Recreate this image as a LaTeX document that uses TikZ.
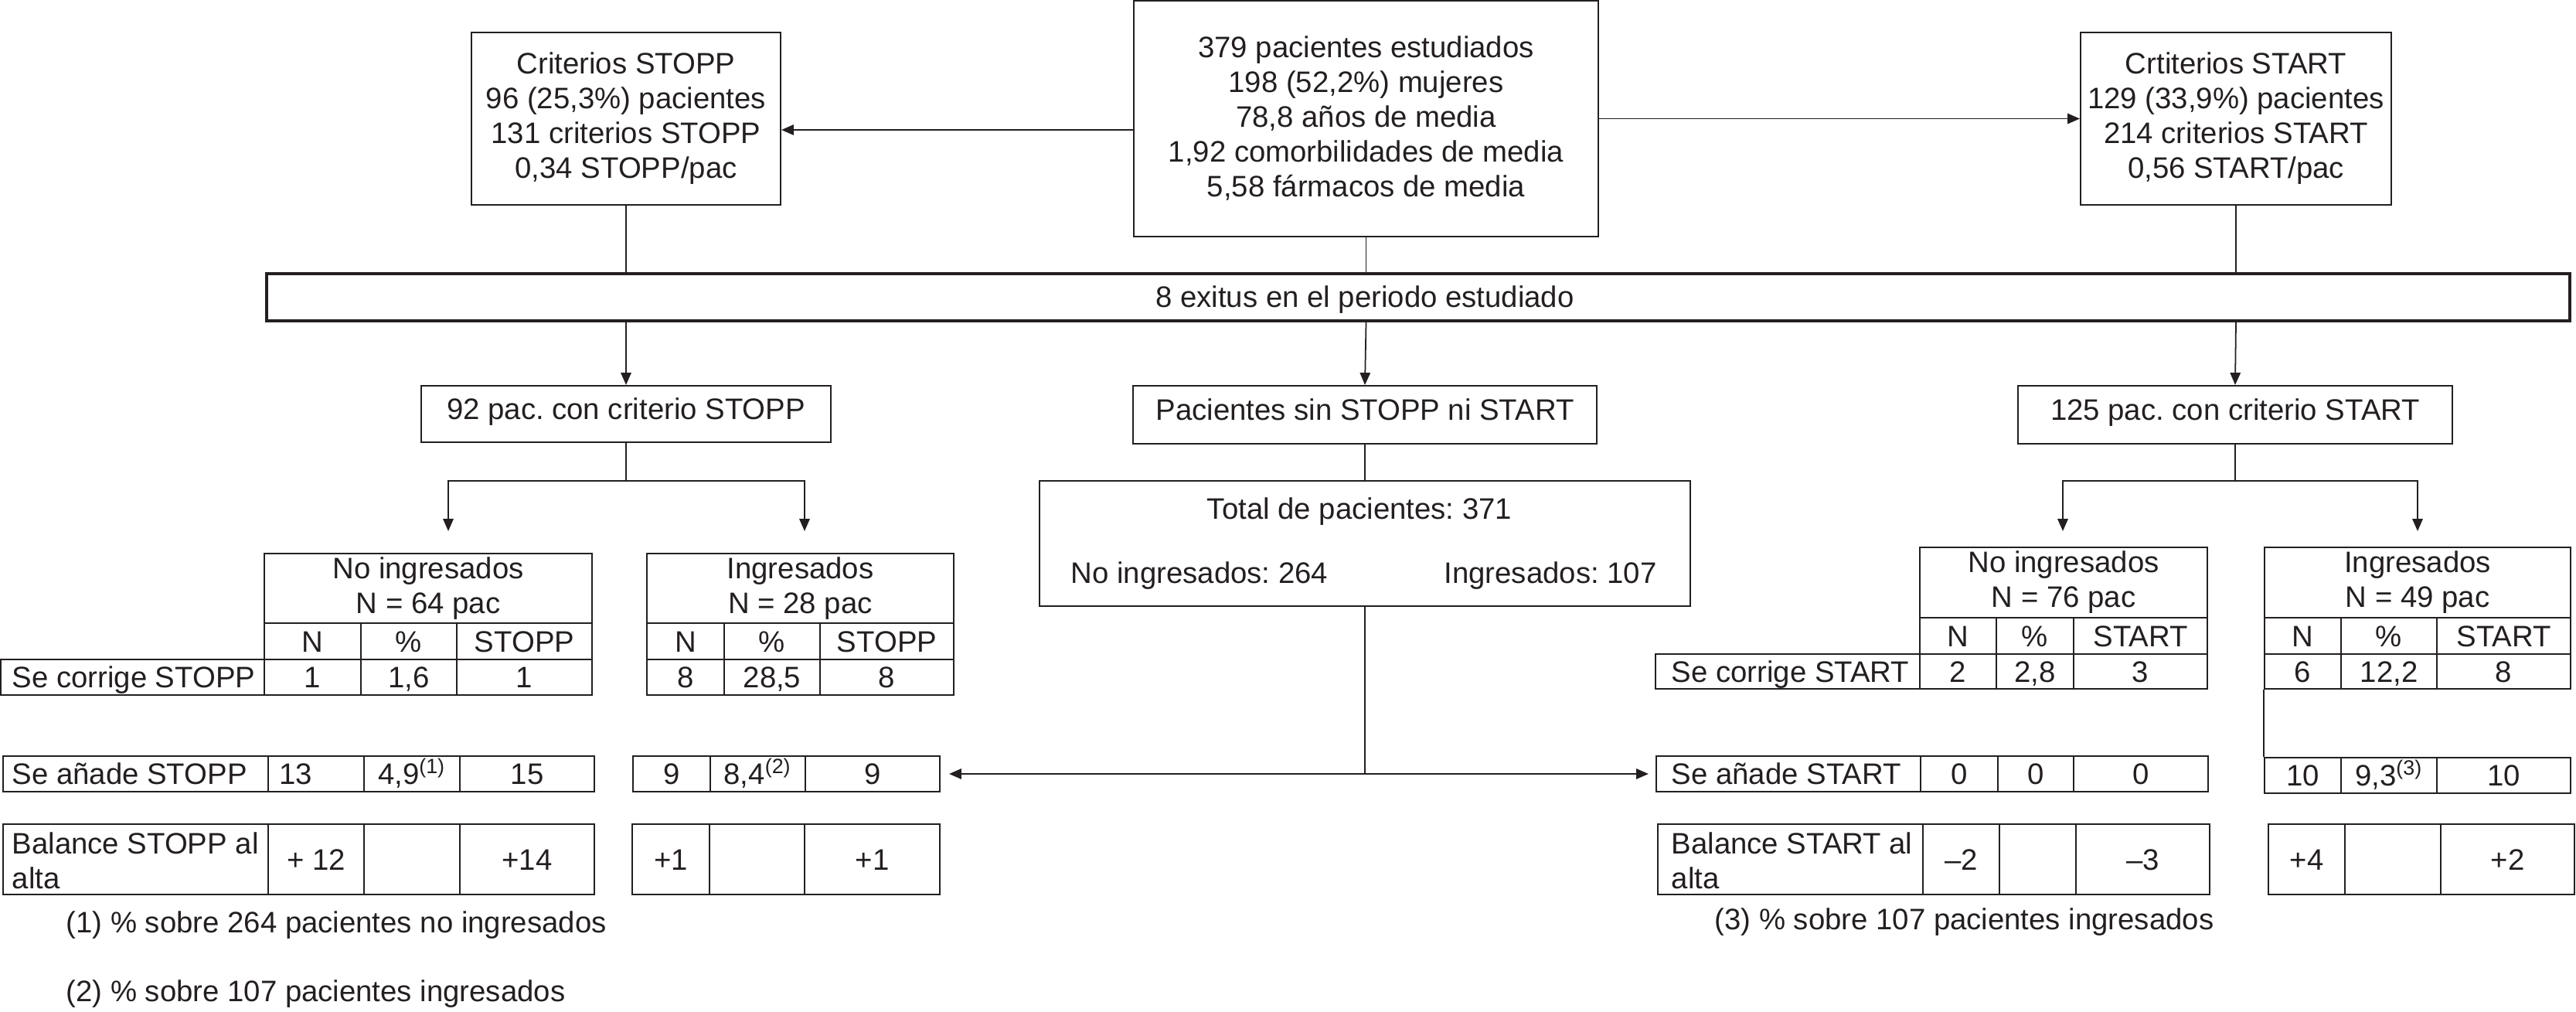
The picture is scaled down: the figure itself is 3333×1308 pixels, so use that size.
\documentclass[tikz,border=0pt]{standalone}
\usepackage{fontspec}
\setmainfont{Liberation Sans}
\frenchspacing
\usetikzlibrary{arrows.meta}
\definecolor{ink}{RGB}{35,31,32}
\newcommand\fsz{\fontsize{10.9}{12.8}\selectfont}
% [style]{name}{x1}{y1}{x2}{y2}{text}
\newcommand\mycell[7][cell]{\node[#1,minimum width={(#5-#3)*0.01cm},minimum height={(#6-#4)*0.01cm}] (#2) at ({(#3+#5)/2},{(#4+#6)/2}) {#7};}
\begin{document}
\begin{tikzpicture}[x=0.01cm,y=-0.01cm,
  every node/.style={text=ink},
  box/.style={draw=ink,line width=0.6pt,inner sep=0pt,align=center,font=\fsz},
  tbox/.style={box,text height=7.8pt,text depth=4pt},
  thick box/.style={draw=ink,line width=1.2pt,inner sep=0pt},
  cell/.style={draw=ink,line width=0.6pt,inner sep=0pt,font=\fsz,text height=7.8pt,text depth=0pt},
  hcell/.style={draw=ink,line width=0.6pt,inner sep=0pt,font=\fsz,align=center},
  txt/.style={inner sep=0pt,font=\fsz,text height=7.8pt,text depth=0pt},
  ltxt/.style={inner sep=0pt,font=\fsz,align=left,anchor=west},
  line/.style={draw=ink,line width=0.5pt},
  arr/.style={line,-{Triangle[length=4.5pt,width=3.8pt]}}]
\useasboundingbox (0,0) rectangle (3333,1308);

% top boxes
\mycell[box]{stopp}{610}{42}{1010}{265}{Criterios STOPP\\96 (25,3\%) pacientes\\131 criterios STOPP\\0,34 STOPP/pac}
\mycell[box]{main}{1467}{1}{2068}{306}{379 pacientes estudiados\\198 (52,2\%) mujeres\\78,8 años de media\\1,92 comorbilidades de media\\5,58 fármacos de media}
\mycell[box]{start}{2692}{42}{3094}{265}{Crtiterios START\\129 (33,9\%) pacientes\\214 criterios START\\0,56 START/pac}

\draw[arr] (main.west |- 0,168) -- (stopp.east |- 0,168);
\draw[arr] (main.east) -- (start.west);

% exitus bar
\mycell[thick box]{exitus}{345}{354}{3325}{415}{}
\node[txt] (exitustxt) at (1766,384) {8 exitus en el periodo estudiado};
\draw[line] (stopp.south) -- (stopp.south |- exitus.north);
\draw[line] (main.south) -- (main.south |- exitus.north);
\draw[line] (start.south) -- (start.south |- exitus.north);

% second level
\mycell[tbox]{p92}{545}{499}{1075}{572}{92 pac. con criterio STOPP}
\mycell[tbox]{sinboth}{1466}{499}{2066}{574}{Pacientes sin STOPP ni START}
\mycell[tbox]{p125}{2611}{499}{3173}{574}{125 pac. con criterio START}
\draw[arr] (stopp.south |- exitus.south) -- (p92.north);
\draw[arr] (main.south |- exitus.south) -- (sinboth.north);
\draw[arr] (start.south |- exitus.south) -- (p125.north);

% branches
\coordinate (sjl) at (580,622); \coordinate (sal) at (580,687);
\coordinate (sjr) at (1041,622); \coordinate (sar) at (1041,687);
\coordinate (tjl) at (2669,622); \coordinate (tal) at (2669,687);
\coordinate (tjr) at (3128,622); \coordinate (tar) at (3128,687);
\draw[arr] (p92.south) |- (sjl) -- (sal);
\draw[arr] (p92.south) |- (sjr) -- (sar);
\draw[arr] (p125.south) |- (tjl) -- (tal);
\draw[arr] (p125.south) |- (tjr) -- (tar);

% total box
\mycell[box]{total}{1345}{622}{2187}{784}{}
\draw[line] (sinboth.south) -- (total.north);
\node[txt] (tottxt) at (1759,658) {Total de pacientes: 371};
\node[txt] (totni) at (1552,741) {No ingresados: 264};
\node[txt] (totin) at (2006,741) {Ingresados: 107};

% ===== STOPP no ingresados =====
\mycell[hcell]{snh}{342}{716}{766}{806}{No ingresados\\N = 64 pac}
\mycell{snc1}{342}{806}{467}{853}{N}
\mycell{snc2}{467}{806}{591}{853}{\%}
\mycell{snc3}{591}{806}{766}{853}{STOPP}
\mycell{snl}{1}{853}{342}{899}{}
\node[ltxt,text height=7.8pt,text depth=0pt] (snltxt) at (15,876) {Se corrige STOPP};
\mycell{snr1}{342}{853}{467}{899}{1}
\mycell{snr2}{467}{853}{591}{899}{1,6}
\mycell{snr3}{591}{853}{766}{899}{1}
% STOPP ingresados
\mycell[hcell]{sih}{837}{716}{1234}{806}{Ingresados\\N = 28 pac}
\mycell{sic1}{837}{806}{937}{853}{N}
\mycell{sic2}{937}{806}{1061}{853}{\%}
\mycell{sic3}{1061}{806}{1234}{853}{STOPP}
\mycell{sir1}{837}{853}{937}{899}{8}
\mycell{sir2}{937}{853}{1061}{899}{28,5}
\mycell{sir3}{1061}{853}{1234}{899}{8}
% STOPP add rows
\mycell{sal0}{4}{978}{347}{1024}{}
\node[ltxt,text height=7.8pt,text depth=0pt] (sal0txt) at (15,1001) {Se añade STOPP};
\mycell{sal1}{347}{978}{471}{1024}{}
\node[txt] (sal1txt) at (383,1001) {13};
\mycell{sal2}{471}{978}{595}{1024}{4,9\textsuperscript{(1)}}
\mycell{sal3}{595}{978}{769}{1024}{15}
\mycell{sar1}{819}{978}{919}{1024}{9}
\mycell{sar2}{919}{978}{1042}{1024}{8,4\textsuperscript{(2)}}
\mycell{sar3}{1042}{978}{1216}{1024}{9}
% STOPP balance rows
\mycell{sbl0}{4}{1066}{347}{1157}{}
\node[ltxt] (sbl0txt) at (15,1113) {Balance STOPP al\\alta};
\mycell{sbl1}{347}{1066}{471}{1157}{+ 12}
\mycell{sbl2}{471}{1066}{595}{1157}{}
\mycell{sbl3}{595}{1066}{769}{1157}{+14}
\mycell{sbr1}{818}{1066}{918}{1157}{+1}
\mycell{sbr2}{918}{1066}{1041}{1157}{}
\mycell{sbr3}{1041}{1066}{1216}{1157}{+1}

% ===== START no ingresados =====
\mycell[hcell]{tnh}{2484}{708}{2856}{799}{No ingresados\\N = 76 pac}
\mycell{tnc1}{2484}{799}{2583}{846}{N}
\mycell{tnc2}{2583}{799}{2683}{846}{\%}
\mycell{tnc3}{2683}{799}{2856}{846}{START}
\mycell{tnl}{2142}{846}{2484}{891}{}
\node[ltxt,text height=7.8pt,text depth=0pt] (tnltxt) at (2162,869) {Se corrige START};
\mycell{tnr1}{2484}{846}{2583}{891}{2}
\mycell{tnr2}{2583}{846}{2683}{891}{2,8}
\mycell{tnr3}{2683}{846}{2856}{891}{3}
% START ingresados
\mycell[hcell]{tih}{2930}{708}{3326}{799}{Ingresados\\N = 49 pac}
\mycell{tic1}{2930}{799}{3029}{846}{N}
\mycell{tic2}{3029}{799}{3153}{846}{\%}
\mycell{tic3}{3153}{799}{3326}{846}{START}
\mycell{tir1}{2930}{846}{3029}{891}{6}
\mycell{tir2}{3029}{846}{3153}{891}{12,2}
\mycell{tir3}{3153}{846}{3326}{891}{8}
\mycell{tia1}{2930}{980}{3029}{1026}{10}
\mycell{tia2}{3029}{980}{3153}{1026}{9,3\textsuperscript{(3)}}
\mycell{tia3}{3153}{980}{3326}{1026}{10}
\draw[draw=ink,line width=0.6pt] (tir1.south west) -- (tia1.north west);
% START add row
\mycell{tal0}{2143}{978}{2485}{1024}{}
\node[ltxt,text height=7.8pt,text depth=0pt] (tal0txt) at (2162,1001) {Se añade START};
\mycell{tal1}{2485}{978}{2585}{1024}{0}
\mycell{tal2}{2585}{978}{2683}{1024}{0}
\mycell{tal3}{2683}{978}{2857}{1024}{0}
% START balance rows
\mycell{tbl0}{2145}{1066}{2488}{1157}{}
\node[ltxt] (tbl0txt) at (2162,1113) {Balance START al\\alta};
\mycell{tbl1}{2488}{1066}{2587}{1157}{–2}
\mycell{tbl2}{2587}{1066}{2686}{1157}{}
\mycell{tbl3}{2686}{1066}{2859}{1157}{–3}
\mycell{tbr1}{2935}{1066}{3034}{1157}{+4}
\mycell{tbr2}{3034}{1066}{3158}{1157}{}
\mycell{tbr3}{3158}{1066}{3331}{1157}{+2}

% arrows from total box to add rows
\draw[arr,shorten >=0.11cm] (total.south) |- (sar3.east);
\draw[arr,shorten >=0.09cm] (total.south) |- (tal0.west);

% footnotes
\node[inner sep=0pt,font=\fsz,anchor=base west] (fn1) at (85,1206) {(1) \% sobre 264 pacientes no ingresados};
\node[inner sep=0pt,font=\fsz,anchor=base west] (fn2) at (85,1295) {(2) \% sobre 107 pacientes ingresados};
\node[inner sep=0pt,font=\fsz,anchor=base west] (fn3) at (2218,1202) {(3) \% sobre 107 pacientes ingresados};
\end{tikzpicture}
\end{document}
